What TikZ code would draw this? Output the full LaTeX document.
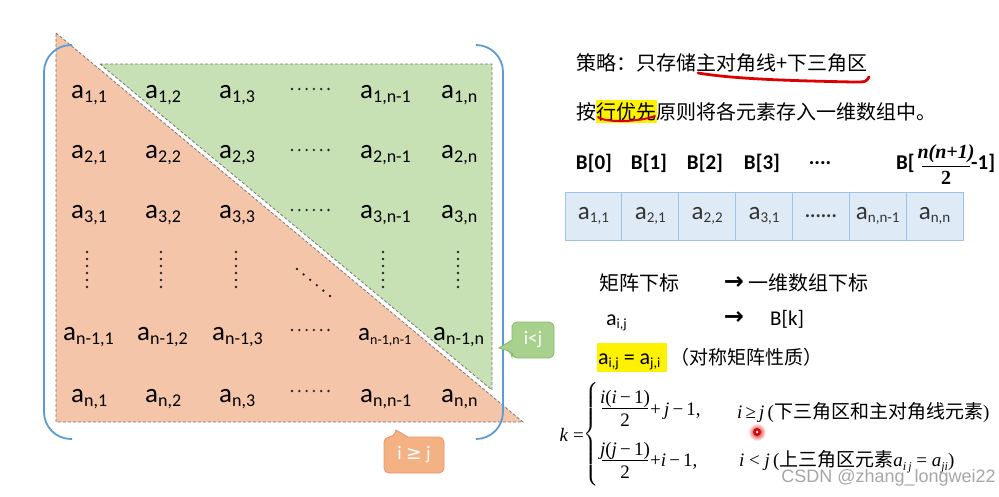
\documentclass[tikz,border=0pt]{standalone}
\usepackage{amsmath}
\usepackage{fontspec}
\setmainfont{Carlito}
\newfontfamily\cjk{Noto Sans CJK SC}
\newfontfamily\dv{DejaVu Sans}
\newfontfamily\lsans{Liberation Sans}
\newfontfamily\tnr{Liberation Serif}
\definecolor{orfill}{RGB}{245,197,170}
\definecolor{grfill}{RGB}{200,225,180}
\definecolor{brk}{RGB}{91,155,213}
\definecolor{dashgray}{RGB}{120,120,120}
\definecolor{cellfill}{RGB}{222,235,247}
\definecolor{cellline}{RGB}{157,195,230}
\definecolor{calg}{RGB}{169,209,142}
\definecolor{calgd}{RGB}{135,185,105}
\definecolor{calo}{RGB}{244,177,131}
\definecolor{calod}{RGB}{232,150,100}
\definecolor{ulred}{RGB}{220,0,0}
\newcommand{\ael}[1]{a\raisebox{-4pt}{\fontsize{18pt}{18pt}\selectfont #1}}
\newcommand{\aels}[1]{a\raisebox{-4pt}{\fontsize{14pt}{14pt}\selectfont #1}}
\newcommand{\acl}[1]{a\raisebox{-3.5pt}{\fontsize{15pt}{15pt}\selectfont #1}}
\newcommand{\atx}[1]{a\raisebox{-3.5pt}{\fontsize{14pt}{14pt}\selectfont #1}}
\newcommand{\vv}[1]{\textit{#1}}
\newcommand{\asub}[1]{\textit{a}\raisebox{-3.5pt}{\fontsize{12pt}{12pt}\selectfont\textit{#1}}}
\tikzset{
  el/.style={anchor=base west, inner sep=0pt, font=\fontsize{27pt}{27pt}\selectfont},
  els/.style={anchor=base west, inner sep=0pt, font=\fontsize{25pt}{25pt}\selectfont},
  tri/.style={draw=dashgray, dash pattern=on 3pt off 2pt, line width=0.8pt},
  brack/.style={draw=brk, line width=1.8pt, rounded corners=27pt},
  cjktxt/.style={anchor=west, inner sep=0pt, font=\cjk\fontsize{20pt}{20pt}\selectfont},
  blab/.style={inner sep=0pt, font=\bfseries\fontsize{21pt}{21pt}\selectfont},
  bfrac/.style={inner sep=0pt, font=\tnr\bfseries\itshape\fontsize{20pt}{20pt}\selectfont},
  cell/.style={draw=cellline, fill=cellfill, line width=1pt, minimum width=56.86pt, minimum height=48pt, inner sep=0pt, font=\fontsize{25pt}{25pt}\selectfont, text=black!80},
  fml/.style={inner sep=0pt, font=\tnr\fontsize{19pt}{19pt}\selectfont},
  arrw/.style={inner sep=0pt, font=\dv\bfseries\fontsize{24pt}{24pt}\selectfont},
  dotm/.style={fill=black!85},
}
\begin{document}
\begin{tikzpicture}[x=1pt,y=-1pt]
\useasboundingbox (0,0) rectangle (999,496);
% triangles
\path[fill=orfill] (56,33) -- (523,422) -- (56,422) -- cycle;
\draw[tri] (56,33) -- (523,422) -- (56,422) -- cycle;
\path[fill=grfill] (100,64) -- (492,64) -- (492,390) -- cycle;
\draw[tri] (100,64) -- (492,64) -- (492,390) -- cycle;
% brackets
\draw[brack] (72,45) -- (44,45) -- (44,439) -- (72,439);
\draw[brack] (477,45) -- (503,45) -- (503,439) -- (477,439);
% matrix elements
\node[el] (m11) at (71,98) {\ael{1,1}};
\node[el] (m12) at (145,98) {\ael{1,2}};
\node[el] (m13) at (219,98) {\ael{1,3}};
\node[el] (m1a) at (360,98) {\ael{1,n-1}};
\node[el] (m1b) at (441,98) {\ael{1,n}};
\node[el] (m21) at (71,158) {\ael{2,1}};
\node[el] (m22) at (145,158) {\ael{2,2}};
\node[el] (m23) at (219,158) {\ael{2,3}};
\node[el] (m2a) at (360,158) {\ael{2,n-1}};
\node[el] (m2b) at (441,158) {\ael{2,n}};
\node[el] (m31) at (71,218) {\ael{3,1}};
\node[el] (m32) at (145,218) {\ael{3,2}};
\node[el] (m33) at (219,218) {\ael{3,3}};
\node[el] (m3a) at (360,218) {\ael{3,n-1}};
\node[el] (m3b) at (441,218) {\ael{3,n}};
\node[el] (m51) at (63,340) {\ael{n-1,1}};
\node[el] (m52) at (137,340) {\ael{n-1,2}};
\node[el] (m53) at (212,340) {\ael{n-1,3}};
\node[els] (m5a) at (358,340) {\aels{n-1,n-1}};
\node[el] (m5b) at (433,340) {\ael{n-1,n}};
\node[el] (m61) at (71,402) {\ael{n,1}};
\node[el] (m62) at (145,402) {\ael{n,2}};
\node[el] (m63) at (219,402) {\ael{n,3}};
\node[el] (m6a) at (360,402) {\ael{n,n-1}};
\node[el] (m6b) at (441,402) {\ael{n,n}};
% dots
\foreach \r in {89,150,210,330,391} \foreach \k in {0,...,5} \fill[dotm] ({292+\k*7.3},\r) circle (1.3pt);
\foreach \c in {87,161,236,383,458} \foreach \k in {0,...,5} \fill[dotm] (\c,{252+\k*7}) circle (1.3pt);
\foreach \k in {0,...,5} \fill[dotm] ({297+\k*6.6},{269+\k*5.4}) circle (1.3pt);
% callouts
\draw[fill=calg, draw=calgd, line width=0.8pt, rounded corners=5pt] (512,330) -- (512,322) -- (554,322) -- (554,358) -- (512,358) -- (512,352) [sharp corners] -- (499,348) -- (512,340) [rounded corners=5pt] -- cycle;
\node[text=white, font=\fontsize{19pt}{19pt}\selectfont] (ilj) at (533,340) {i<j};
\draw[fill=calo, draw=calod, line width=0.8pt, rounded corners=5pt] (384,455) -- (384,437) -- (394,437) [sharp corners] -- (396,430) -- (408,437) [rounded corners=5pt] -- (444,437) -- (444,473) -- (384,473) -- cycle;
\node[text=white, font=\fontsize{19pt}{19pt}\selectfont] (igj) at (414,455) {i {\dv ≥} j};
% right text
\node[cjktxt] (s1) at (576,63) {策略：只存储主对角线+下三角区};
\draw[ulred, line width=2.8pt, line cap=round] (698,73) .. controls (740,80) and (810,81) .. (853,82) .. controls (866,82) .. (869,77);
\fill[yellow] (596,100) rectangle (657,123);
\node[cjktxt] (s2) at (576,112) {按行优先原则将各元素存入一维数组中。};
\draw[ulred, line width=2pt, line cap=round] (598,117) .. controls (605,123) and (640,122) .. (655,116);
% B labels
\node[blab] (b0) at (594,163) {B[0]};
\node[blab] (b1) at (649,163) {B[1]};
\node[blab] (b2) at (705,163) {B[2]};
\node[blab] (b3) at (762,163) {B[3]};
\node[blab] (bd) at (820,163) {....};
\node[blab, anchor=west] (bl) at (896,163) {B[};
\node[bfrac] (bnum) at (946,154) {n(n+1)};
\draw[line width=1pt] (922,166) -- (970,166);
\node[bfrac, font=\tnr\bfseries\fontsize{20pt}{20pt}\selectfont] (bden) at (946,178) {2};
\node[blab, anchor=west] (bend) at (971,163) {-1]};
% array
\node[cell] (c0) at (593.43,216) {\acl{1,1}};
\node[cell] (c1) at (650.29,216) {\acl{2,1}};
\node[cell] (c2) at (707.15,216) {\acl{2,2}};
\node[cell] (c3) at (764.01,216) {\acl{3,1}};
\node[cell, font=\bfseries\fontsize{20pt}{20pt}\selectfont] (c4) at (820.87,216) {......};
\node[cell] (c5) at (877.73,216) {\acl{n,n-1}};
\node[cell] (c6) at (934.59,216) {\acl{n,n}};
% mapping
\node[cjktxt] (r1) at (599,283) {矩阵下标};
\node[arrw] (ar1) at (734,283) {→};
\node[cjktxt] (r2) at (748,283) {一维数组下标};
\node[anchor=base west, inner sep=0pt, font=\fontsize{22pt}{22pt}\selectfont] (aij) at (606,325) {\atx{i,j}};
\node[arrw] (ar2) at (734,318) {→};
\node[anchor=base west, inner sep=0pt, font=\fontsize{21pt}{21pt}\selectfont] (bk) at (770,325) {B[k]};
\fill[yellow] (597,343) rectangle (667,372);
\node[anchor=base west, inner sep=0pt, font=\fontsize{22pt}{22pt}\selectfont] (sym) at (598,364) {\atx{i,j} = \atx{j,i}};
\node[cjktxt, font=\cjk\fontsize{19pt}{19pt}\selectfont] (symt) at (670,357) {（对称矩阵性质）};
% formula
\node[fml, anchor=east] (fk) at (584,435) {\vv{k} =};
\node[inner sep=0pt, anchor=east] (brace) at (599,434) {\fontsize{18pt}{18pt}\selectfont$\left\{\vrule height 45pt depth 45pt width 0pt\right.\kern-\nulldelimiterspace$};
\node[fml] (n1) at (625,399) {\vv{i}(\vv{i}\,−\,1)};
\draw[line width=0.8pt] (602,408) -- (648,408);
\node[fml] (d1) at (625,420) {2};
\node[fml, anchor=west] (t1) at (650,411) {+\,\vv{j}\,−\,1,};
\node[fml] (n2) at (625,451) {\vv{j}(\vv{j}\,−\,1)};
\draw[line width=0.8pt] (602,460) -- (648,460);
\node[fml] (d2) at (625,472) {2};
\node[fml, anchor=west] (t2) at (650,462) {+\vv{i}\,−\,1,};
\node[fml, anchor=west] (cd1) at (737,413) {\vv{i}\,≥\,\vv{j}\,(\cjk\fontsize{19pt}{19pt}\selectfont 下三角区和主对角线元素\tnr)};
\node[fml, anchor=west] (cd2) at (739,462) {\vv{i} < \vv{j}\,({\cjk 上三角区元素}\asub{i\,j} = \asub{ji})};
% cursor dot
\shade[inner color=red!90!black, outer color=white] (757,432) circle (9pt);
\fill[red!85!black] (757,432) circle (4pt);
\fill[white] (757,432) circle (1.5pt);
% watermark
\node[anchor=east, inner sep=0pt, text=black!35, font=\lsans\fontsize{18pt}{18pt}\selectfont] (wm) at (996,478) {CSDN @zhang\_longwei22};
\end{tikzpicture}
\end{document}
